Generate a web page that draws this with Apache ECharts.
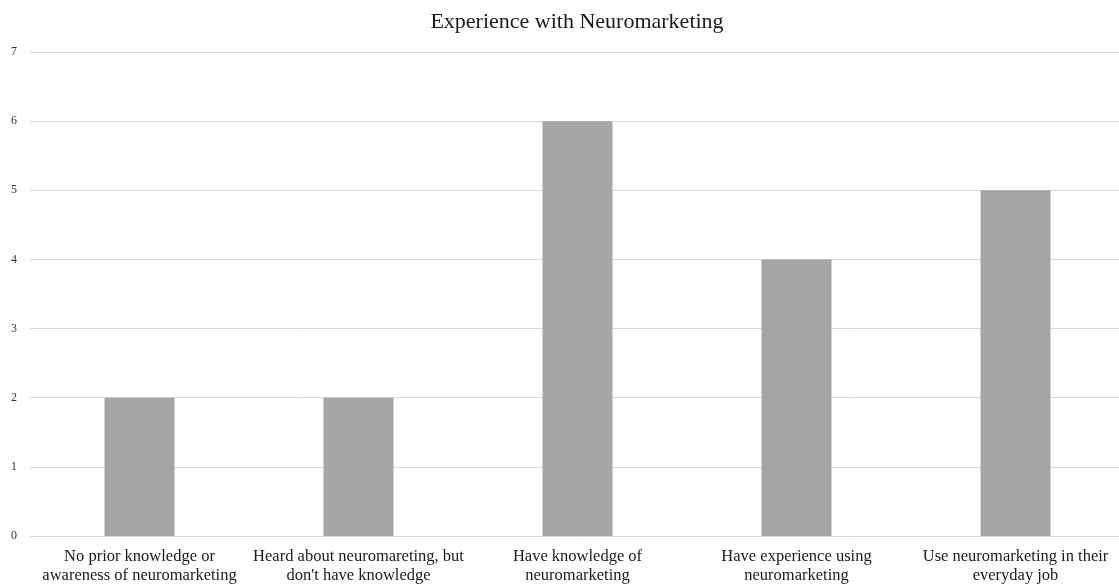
<!DOCTYPE html>
<html>
<head>
<meta charset="utf-8">
<style>
  html, body { margin: 0; padding: 0; background: #ffffff; overflow: hidden; }
  /* the plot area runs a few pixels past the right edge of the window */
  #chart { width: 1125px; height: 586px; }
</style>
<script src="https://cdn.jsdelivr.net/npm/echarts@6/dist/echarts.min.js"></script>
</head>
<body>
<div id="chart"></div>
<script>
// Survey responses: level of experience with neuromarketing
const categories = [
  "No prior knowledge or\nawareness of neuromarketing",
  "Heard about neuromareting, but\ndon't have knowledge",
  "Have knowledge of\nneuromarketing",
  "Have experience using\nneuromarketing",
  "Use neuromarketing in their\neveryday job"
];
const counts = [2, 2, 6, 4, 5];
const yTicks = { min: 0, max: 7, interval: 1 };

const serif = "'Liberation Serif', 'DejaVu Serif', serif";
const chart = echarts.init(document.getElementById('chart'), null, { renderer: 'canvas' });

chart.setOption({
  backgroundColor: '#ffffff',
  animation: false,
  title: {
    text: 'Experience with Neuromarketing',
    left: 572,
    top: 6,
    textAlign: 'center',
    textStyle: { fontFamily: serif, fontSize: 22, fontWeight: 'normal', color: '#1a1a1a' }
  },
  grid: { left: 30, top: 52, right: 0, bottom: 50, containLabel: false },
  xAxis: {
    type: 'category',
    data: categories,
    axisLine: { show: true, lineStyle: { color: '#d9d9d9', width: 1 } },
    axisTick: { show: false },
    axisLabel: {
      interval: 0,
      margin: 11,
      fontFamily: serif,
      fontSize: 16.5,
      lineHeight: 19,
      color: '#1a1a1a'
    }
  },
  yAxis: {
    type: 'value',
    min: yTicks.min,
    max: yTicks.max,
    interval: yTicks.interval,
    axisLine: { show: false },
    axisTick: { show: false },
    axisLabel: { margin: 13, fontFamily: serif, fontSize: 12, color: '#333333' },
    splitLine: { show: true, lineStyle: { color: '#d9d9d9', width: 1 } }
  },
  series: [{
    type: 'bar',
    data: counts,
    barWidth: 70,
    itemStyle: { color: '#a5a5a5' }
  }]
});
</script>
</body>
</html>
